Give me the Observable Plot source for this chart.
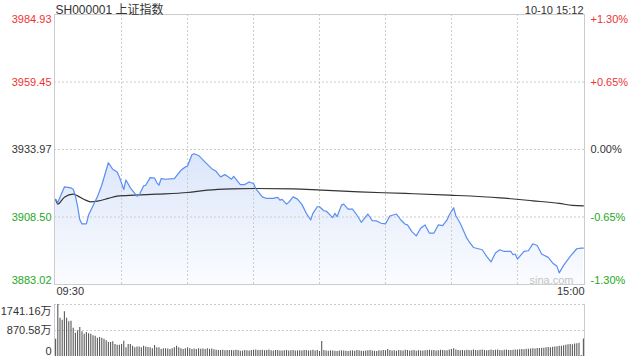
<!DOCTYPE html>
<html>
<head>
<meta charset="utf-8">
<script src="https://cdn.jsdelivr.net/npm/d3@7"></script>
<script src="https://cdn.jsdelivr.net/npm/@observablehq/plot@0.6"></script>
<style>
  body { margin: 0; background: #fff; }
  #chart { width: 640px; height: 360px; overflow: hidden; }
  #chart svg { display: block; }
</style>
</head>
<body>
<div id="chart"></div>
<script>
const title = "SH000001 上证指数";
const stamp = "10-10 15:12";
const prevClose = 3933.97;
const priceTicks = [3984.93, 3959.45, 3933.97, 3908.50, 3883.02];
const priceTickLabels = ["3984.93", "3959.45", "3933.97", "3908.50", "3883.02"];
const pctTickLabels = ["+1.30%", "+0.65%", "0.00%", "-0.65%", "-1.30%"];
const volTicks = [1741.16, 870.58, 0];
const volTickLabels = ["1741.16万", "870.58万", "0"];
const timeLabels = ["09:30", "15:00"];
const gridMinutes = [30, 60, 90, 120, 150, 180, 210];

// minutes since open (lunch break removed) and index level
const priceMinute = [0,1,4,7,8,9,10,11,12,14,15,19,21,24,26,28,29,31,32,34,37,38,40,41,43,45,46,47,48,50,54,57,59,60,62,63,65,68,71,73,75,77,80,81,84,86,88,90,91,94,96,99,101,102,103,105,106,108,110,112,114,116,117,119,120,122,123,126,127,128,130,131,133,135,137,139,142,144,146,148,150,152,155,157,159,160,162,164,166,168,170,172,174,176,178,179,181,182,184,187,188,190,194,196,198,200,202,204,207,208,209,210,213,215,217,219,221,224,226,228,229,231,234,237,239,240];
const priceValue = [3915.13,3914.01,3919.85,3919.48,3918.99,3916.50,3912.50,3907.50,3905.90,3905.88,3909.25,3916.10,3920.49,3928.99,3926.48,3925.47,3923.60,3918.88,3922.47,3919.48,3916.37,3916.74,3920.23,3920.49,3923.37,3923.22,3921.50,3920.49,3923.00,3922.74,3923.00,3926.11,3927.34,3927.72,3931.99,3932.36,3931.73,3929.22,3926.74,3925.73,3923.60,3924.50,3922.74,3923.86,3920.75,3920.75,3921.72,3921.12,3919.25,3916.10,3915.50,3915.50,3915.88,3914.87,3915.13,3913.37,3914.01,3916.10,3915.24,3913.26,3909.88,3907.37,3909.88,3912.36,3912.36,3910.86,3910.75,3908.24,3909.88,3908.61,3912.99,3913.37,3911.50,3911.50,3909.25,3906.51,3909.62,3907.11,3907.00,3906.14,3905.88,3908.87,3909.62,3907.37,3905.76,3905.50,3902.99,3901.38,3904.26,3905.50,3902.39,3902.39,3905.50,3905.24,3907.37,3909.25,3911.98,3908.98,3906.14,3900.52,3899.24,3897.00,3896.13,3893.62,3891.53,3894.90,3896.13,3895.50,3895.50,3894.26,3894.52,3892.65,3895.50,3895.76,3898.38,3897.74,3894.52,3893.25,3891.15,3889.88,3887.40,3890.25,3893.62,3896.51,3896.77,3896.77];

// average price line
const avgMinute = [0,1,4,8,10,13,16,19,24,28,36,46,60,69,80,91,108,121,138,159,179,202,217,229,235,240];
const avgValue = [3915.13,3913.37,3915.99,3917.11,3916.48,3915.13,3914.23,3914.49,3915.50,3916.37,3916.74,3917.11,3917.75,3918.61,3919.10,3919.25,3919.10,3918.61,3917.98,3917.38,3916.74,3915.73,3914.61,3913.63,3912.88,3912.73];

// volume per minute (万)
const volume = [
581,1741,1283,1216,1497,1283,1162,1183,948,781,
861,971,827,747,804,760,747,693,680,613,
640,613,581,526,469,469,492,402,380,380,
400,510,290,402,402,346,290,320,320,290,
346,320,300,290,260,370,290,290,235,260,
260,250,235,260,290,346,290,260,235,260,
290,260,235,250,235,260,240,250,235,260,
240,250,230,210,200,200,210,190,200,205,
200,190,210,200,175,180,200,195,185,200,
210,215,200,205,210,195,205,215,190,185,
200,205,180,185,190,200,185,190,200,185,
190,195,180,200,205,185,195,210,180,200,
170,500,200,185,175,190,180,175,170,185,
190,180,175,170,185,190,175,200,190,175,
170,180,190,200,185,175,170,190,180,200,
195,235,200,185,190,175,200,190,180,210,
200,185,190,200,175,195,185,180,190,205,
210,190,200,185,195,210,200,190,195,220,
235,257,215,200,190,205,195,210,200,190,
215,205,195,210,220,200,190,205,215,200,
210,220,200,195,210,215,205,200,210,220,
215,230,235,225,245,240,250,260,255,270,
265,280,275,290,300,295,310,320,330,345,
340,360,375,390,400,395,415,430,440,30,
590];

const priceData = priceMinute.map((m, i) => ({m, v: priceValue[i]}));
const avgData = avgMinute.map((m, i) => ({m, v: avgValue[i]}));
const volData = volume.map((v, i) => ({m: i, v}));

const RED = "#ee3333", GREEN = "#22a822", DARK = "#333333";
const tickColor = v => v > prevClose + 0.001 ? RED : v < prevClose - 0.001 ? GREEN : DARK;
const FONT = "Arial, 'Liberation Sans', 'Noto Sans CJK SC', sans-serif";
const xDomain = [-0.5, 240.5];

function gradientDefs() {
  const defs = d3.create("svg:defs");
  const g = defs.append("linearGradient").attr("id", "areaGrad")
    .attr("x1", 0).attr("x2", 0).attr("y1", 0).attr("y2", 1);
  g.append("stop").attr("offset", "0%").attr("stop-color", "#dbe6fa");
  g.append("stop").attr("offset", "100%").attr("stop-color", "#fbfcff");
  return defs.node();
}

const dotted = {stroke: "#cccccc", strokeDasharray: "2,2"};

const pricePlot = Plot.plot({
  width: 640, height: 300,
  marginTop: 14, marginBottom: 16, marginLeft: 54, marginRight: 56,
  x: {domain: xDomain, axis: null},
  y: {domain: [3883.02, 3984.93], axis: null},
  color: {type: "identity"},
  style: {fontFamily: FONT, fontSize: "11px", background: "#fff", overflow: "visible"},
  marks: [
    gradientDefs,
    Plot.areaY(priceData, {x: "m", y1: 3883.02, y2: "v", fill: "url(#areaGrad)"}),
    Plot.ruleY([priceTicks[1], priceTicks[2], priceTicks[3]], dotted),
    Plot.ruleX(gridMinutes, dotted),
    Plot.frame({stroke: "#cccccc"}),
    Plot.line(avgData, {x: "m", y: "v", stroke: "#333", strokeWidth: 1.2, curve: "monotone-x"}),
    Plot.line(priceData, {x: "m", y: "v", stroke: "#5b8ef0", strokeWidth: 1.2}),
    // left labels
    Plot.text([0], {y: d => priceTicks[d], text: d => priceTickLabels[d], fill: d => tickColor(priceTicks[d]), frameAnchor: "left", textAnchor: "end", lineAnchor: "top", dx: -3, dy: 1, fontSize: 11}),
    Plot.text([1, 2, 3], {y: d => priceTicks[d], text: d => priceTickLabels[d], fill: d => tickColor(priceTicks[d]), frameAnchor: "left", textAnchor: "end", lineAnchor: "middle", dx: -3, fontSize: 11}),
    Plot.text([4], {y: d => priceTicks[d], text: d => priceTickLabels[d], fill: d => tickColor(priceTicks[d]), frameAnchor: "left", textAnchor: "end", lineAnchor: "bottom", dx: -3, dy: -1, fontSize: 11}),
    // right labels
    Plot.text([0], {y: d => priceTicks[d], text: d => pctTickLabels[d], fill: d => tickColor(priceTicks[d]), frameAnchor: "right", textAnchor: "start", lineAnchor: "top", dx: 6, dy: 1, fontSize: 11}),
    Plot.text([1, 2, 3], {y: d => priceTicks[d], text: d => pctTickLabels[d], fill: d => tickColor(priceTicks[d]), frameAnchor: "right", textAnchor: "start", lineAnchor: "middle", dx: 6, fontSize: 11}),
    Plot.text([4], {y: d => priceTicks[d], text: d => pctTickLabels[d], fill: d => tickColor(priceTicks[d]), frameAnchor: "right", textAnchor: "start", lineAnchor: "bottom", dx: 6, dy: -1, fontSize: 11}),
    // time labels
    Plot.text([timeLabels[0]], {text: d => d, frameAnchor: "bottom-left", textAnchor: "start", lineAnchor: "top", dx: 2, dy: 3, fill: DARK, fontSize: 11}),
    Plot.text([timeLabels[1]], {text: d => d, frameAnchor: "bottom-right", textAnchor: "end", lineAnchor: "top", dx: 0, dy: 3, fill: DARK, fontSize: 11}),
    // title and timestamp
    Plot.text([title], {text: d => d, frameAnchor: "top-left", textAnchor: "start", lineAnchor: "bottom", dx: 1, dy: -1, fill: DARK, fontSize: 12}),
    Plot.text([stamp], {text: d => d, frameAnchor: "top-right", textAnchor: "end", lineAnchor: "bottom", dx: -1, dy: -1, fill: DARK, fontSize: 11}),
    // watermark
    Plot.text(["sina.com"], {text: d => d, frameAnchor: "bottom-right", textAnchor: "end", lineAnchor: "bottom", dx: -11, dy: -1, fill: "#c4c4c4", fontSize: 11})
  ]
});

const volPlot = Plot.plot({
  width: 640, height: 60,
  marginTop: 4, marginBottom: 4, marginLeft: 54, marginRight: 56,
  x: {domain: xDomain, axis: null},
  y: {domain: [0, 1741.16], axis: null},
  style: {fontFamily: FONT, fontSize: "11px", background: "#fff", overflow: "visible"},
  marks: [
    Plot.ruleY([volTicks[0], volTicks[1]], dotted),
    Plot.ruleX(xDomain, {stroke: "#cccccc"}),
    Plot.ruleX(volData, {x: "m", y1: 0, y2: "v", stroke: "#5a5a5a", strokeWidth: 1.1}),
    Plot.text([0], {y: d => volTicks[d], text: d => volTickLabels[d], frameAnchor: "left", textAnchor: "end", lineAnchor: "top", dx: -3, dy: 3, fill: DARK, fontSize: 11}),
    Plot.text([1], {y: d => volTicks[d], text: d => volTickLabels[d], frameAnchor: "left", textAnchor: "end", lineAnchor: "middle", dx: -3, fill: DARK, fontSize: 11}),
    Plot.text([2], {y: d => volTicks[d], text: d => volTickLabels[d], frameAnchor: "left", textAnchor: "end", lineAnchor: "bottom", dx: -3, dy: -2, fill: DARK, fontSize: 11})
  ]
});

const chart = document.getElementById("chart");
chart.appendChild(pricePlot);
chart.appendChild(volPlot);
</script>
</body>
</html>
